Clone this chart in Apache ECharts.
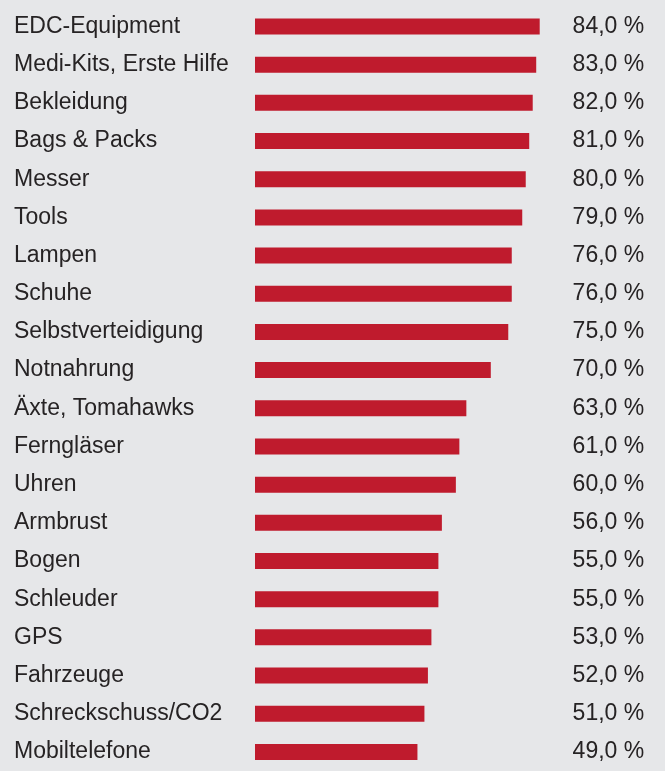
<!DOCTYPE html>
<html>
<head>
<meta charset="utf-8">
<script src="https://cdn.jsdelivr.net/npm/echarts@6/dist/echarts.min.js"></script>
<style>
    html, body { margin: 0; padding: 0; background: #e6e7e9; }
    #main { width: 665px; height: 771px; }
</style>
</head>
<body>
<div id="main"></div>
<script>
    // Kategorien und Anteile (in %)
    var categories = ['EDC-Equipment', 'Medi-Kits, Erste Hilfe', 'Bekleidung', 'Bags & Packs', 'Messer', 'Tools',
        'Lampen', 'Schuhe', 'Selbstverteidigung', 'Notnahrung', 'Äxte, Tomahawks', 'Ferngläser', 'Uhren',
        'Armbrust', 'Bogen', 'Schleuder', 'GPS', 'Fahrzeuge', 'Schreckschuss/CO2', 'Mobiltelefone'];
    var shares = [84, 83, 82, 81, 80, 79, 76, 76, 75, 70, 63, 61, 60, 56, 55, 55, 53, 52, 51, 49];
    var shareLabels = shares.map(function (v) { return v.toFixed(1).replace('.', ',') + ' %'; });

    var textColor = '#262324';
    var font = '"Liberation Sans", Arial, Helvetica, sans-serif';
    var myChart = echarts.init(document.getElementById('main'));
    var option = {
        backgroundColor: '#e6e7e9',
        animation: false,
        grid: {
            left: 255,
            top: 7.4,
            width: 340.6,
            height: 773
        },
        xAxis: {
            type: 'value',
            min: 2.5,
            max: 100,
            show: false
        },
        yAxis: [
            {
                type: 'category',
                data: categories,
                inverse: true,
                axisLine: { show: false },
                axisTick: { show: false },
                axisLabel: {
                    align: 'left',
                    margin: 241,
                    fontSize: 23,
                    fontFamily: font,
                    color: textColor
                }
            },
            {
                type: 'category',
                data: shareLabels,
                inverse: true,
                position: 'right',
                axisLine: { show: false },
                axisTick: { show: false },
                axisLabel: {
                    align: 'left',
                    margin: -23,
                    fontSize: 23,
                    fontFamily: font,
                    color: textColor
                }
            }
        ],
        series: [
            {
                type: 'bar',
                data: shares,
                barWidth: 16,
                itemStyle: { color: '#bf1b2d' }
            }
        ]
    };
    myChart.setOption(option);
</script>
</body>
</html>
